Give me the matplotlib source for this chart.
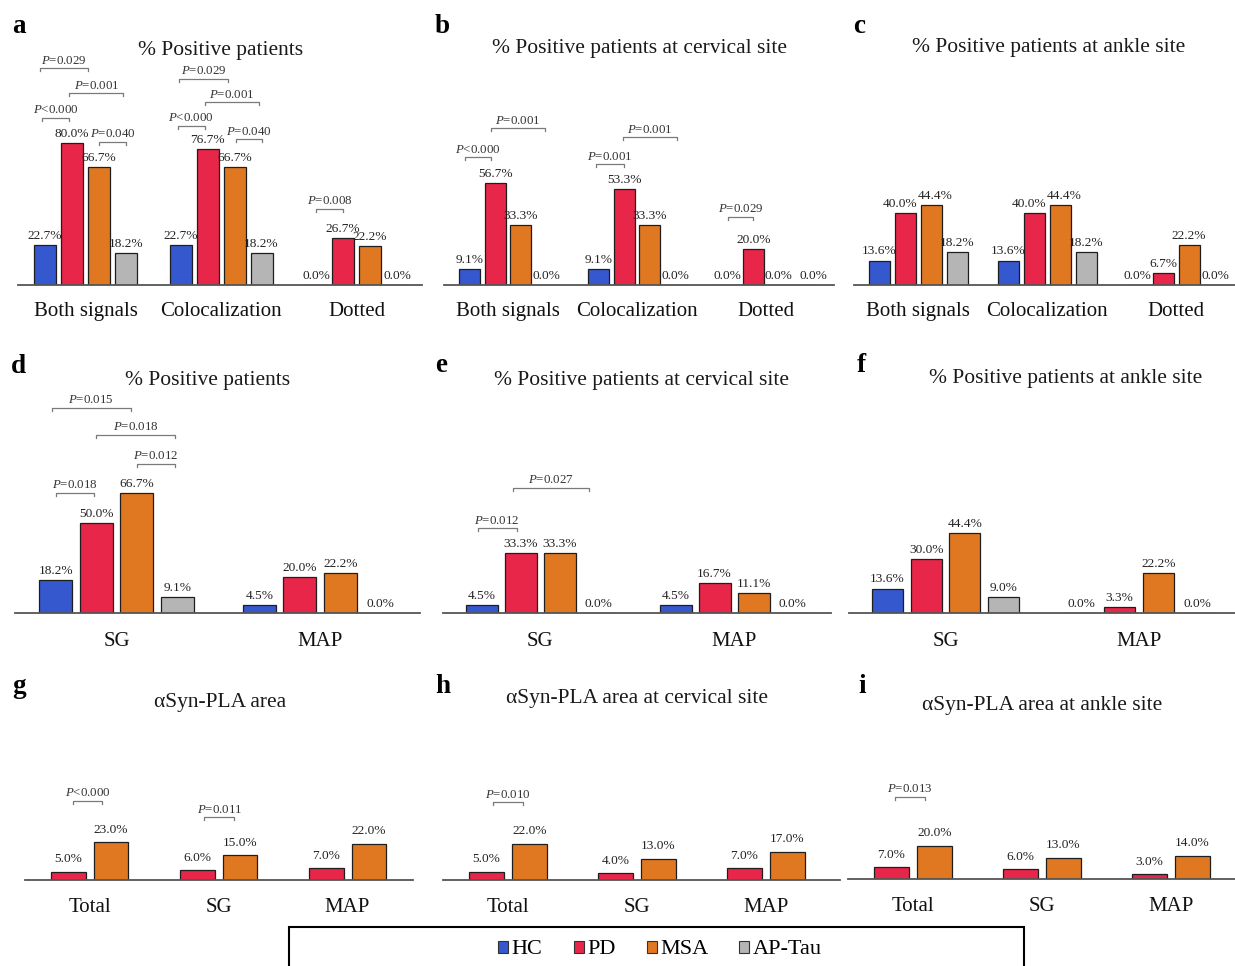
import matplotlib
matplotlib.use('Agg')
import matplotlib.pyplot as plt
from matplotlib.patches import Patch, Rectangle
import numpy as np

plt.rcParams['font.family'] = ['Liberation Serif', 'DejaVu Serif']
plt.rcParams['mathtext.fontset'] = 'custom'
plt.rcParams['mathtext.rm'] = 'Liberation Serif'
plt.rcParams['mathtext.it'] = 'Liberation Serif:italic'

W, H, DPI = 1235, 966, 100

SERIES = ['HC', 'PD', 'MSA', 'AP-Tau']
COLORS = {'HC': '#3558CF', 'PD': '#E8264A', 'MSA': '#E07822', 'AP-Tau': '#B5B5B5'}

# ---------------- data ----------------
signal_groups = ['Both signals', 'Colocalization', 'Dotted']
region_groups = ['SG', 'MAP']
area_groups = ['Total', 'SG', 'MAP']

a_hc = [22.7, 22.7, 0.0]
a_pd = [80.0, 76.7, 26.7]
a_msa = [66.7, 66.7, 22.2]
a_tau = [18.2, 18.2, 0.0]

b_hc = [9.1, 9.1, 0.0]
b_pd = [56.7, 53.3, 20.0]
b_msa = [33.3, 33.3, 0.0]
b_tau = [0.0, 0.0, 0.0]

c_hc = [13.6, 13.6, 0.0]
c_pd = [40.0, 40.0, 6.7]
c_msa = [44.4, 44.4, 22.2]
c_tau = [18.2, 18.2, 0.0]

d_hc = [18.2, 4.5]
d_pd = [50.0, 20.0]
d_msa = [66.7, 22.2]
d_tau = [9.1, 0.0]

e_hc = [4.5, 4.5]
e_pd = [33.3, 16.7]
e_msa = [33.3, 11.1]
e_tau = [0.0, 0.0]

f_hc = [13.6, 0.0]
f_pd = [30.0, 3.3]
f_msa = [44.4, 22.2]
f_tau = [9.0, 0.0]

g_pd = [5.0, 6.0, 7.0]
g_msa = [23.0, 15.0, 22.0]

h_pd = [5.0, 4.0, 7.0]
h_msa = [22.0, 13.0, 17.0]

i_pd = [7.0, 6.0, 3.0]
i_msa = [20.0, 13.0, 14.0]

# significance brackets: (group, from-bar, to-bar, level %, label)
a_sig = [(0, -0.2, 1.6, 122, 'P=0.029'), (0, 0.9, 2.9, 108, 'P=0.001'),
         (0, -0.1, 0.9, 94, 'P<0.000'), (0, 2.0, 3.0, 80.5, 'P=0.040'),
         (1, -0.05, 1.75, 116, 'P=0.029'), (1, 0.9, 2.9, 103, 'P=0.001'),
         (1, -0.1, 0.9, 89.5, 'P<0.000'), (1, 2.05, 3.0, 82, 'P=0.040'),
         (2, 0.0, 1.0, 43, 'P=0.008')]
b_sig = [(0, 0.85, 2.95, 87, 'P=0.001'), (0, -0.2, 0.85, 71, 'P<0.000'),
         (1, 0.95, 3.05, 82, 'P=0.001'), (1, -0.1, 1.0, 67, 'P=0.001'),
         (2, 0.0, 1.0, 38, 'P=0.029')]
d_sig = [(0, -0.1, 1.85, 114, 'P=0.015'), (0, 1.0, 2.95, 99, 'P=0.018'),
         (0, 2.0, 2.95, 83, 'P=0.012'), (0, 0.0, 0.95, 66.7, 'P=0.018')]
e_sig = [(0, 0.8, 2.75, 69.5, 'P=0.027'), (0, -0.1, 0.9, 47, 'P=0.012')]
g_sig = [(0, 0.12, 0.8, 48, 'P<0.000'), (1, 0.17, 0.87, 38, 'P=0.011')]
h_sig = [(0, 0.15, 0.85, 47, 'P=0.010')]
i_sig = [(0, 0.08, 0.78, 49.7, 'P=0.013')]

panels = [
    dict(letter='a', title='% Positive patients', groups=signal_groups,
         series={'HC': a_hc, 'PD': a_pd, 'MSA': a_msa, 'AP-Tau': a_tau}, sig=a_sig,
         x0=18, x1=422, base=285, top=40, c0=85.5, S=135.5, bw=22, step=27, scale=1.775,
         tx=220.5, ty=55, lx=12, ly=33, pad=12, off=2.2, ldx={}),
    dict(letter='b', title='% Positive patients at cervical site', groups=signal_groups,
         series={'HC': b_hc, 'PD': b_pd, 'MSA': b_msa, 'AP-Tau': b_tau}, sig=b_sig,
         x0=444, x1=834, base=285, top=40, c0=508, S=129, bw=21, step=25.5, scale=1.8,
         tx=639, ty=53, lx=435, ly=33, pad=12, off=2.2, ldx={('AP-Tau', 2): 9}),
    dict(letter='c', title='% Positive patients at ankle site', groups=signal_groups,
         series={'HC': c_hc, 'PD': c_pd, 'MSA': c_msa, 'AP-Tau': c_tau}, sig=[],
         x0=854, x1=1235, base=285, top=40, c0=918, S=129, bw=21, step=26, scale=1.8,
         tx=1049, ty=52, lx=853, ly=33, pad=12, off=2.2,
         ldx={('PD', 0): -5, ('MSA', 0): 4, ('PD', 1): -5, ('MSA', 1): 4}),
    dict(letter='d', title='% Positive patients', groups=region_groups,
         series={'HC': d_hc, 'PD': d_pd, 'MSA': d_msa, 'AP-Tau': d_tau}, sig=d_sig,
         x0=15, x1=420, base=613, top=370, c0=116.5, S=203.5, bw=33, step=40.5, scale=1.8,
         tx=208, ty=385, lx=11, ly=373, pad=13.5, off=2.2, ldx={}),
    dict(letter='e', title='% Positive patients at cervical site', groups=region_groups,
         series={'HC': e_hc, 'PD': e_pd, 'MSA': e_msa, 'AP-Tau': e_tau}, sig=e_sig,
         x0=443, x1=831, base=613, top=370, c0=540, S=194, bw=32, step=39, scale=1.8,
         tx=642, ty=385, lx=435, ly=372, pad=13.5, off=2.2, ldx={}),
    dict(letter='f', title='% Positive patients at ankle site', groups=region_groups,
         series={'HC': f_hc, 'PD': f_pd, 'MSA': f_msa, 'AP-Tau': f_tau}, sig=[],
         x0=849, x1=1235, base=613, top=370, c0=945.5, S=193.5, bw=31, step=38.7, scale=1.8,
         tx=1066, ty=383, lx=857, ly=372, pad=13.5, off=2.2, ldx={}),
    dict(letter='g', title='\u03b1Syn-PLA area', groups=area_groups,
         series={'PD': g_pd, 'MSA': g_msa}, sig=g_sig,
         x0=25, x1=413, base=880, top=720, c0=89.5, S=129, bw=34.5, step=42.5, scale=1.65,
         tx=220, ty=707, lx=12, ly=693, pad=13, off=4.7, ldx={}),
    dict(letter='h', title='\u03b1Syn-PLA area at cervical site', groups=area_groups,
         series={'PD': h_pd, 'MSA': h_msa}, sig=h_sig,
         x0=443, x1=840, base=880, top=720, c0=508, S=129, bw=35, step=43, scale=1.65,
         tx=637, ty=703, lx=435, ly=693, pad=13, off=4.7, ldx={}),
    dict(letter='i', title='\u03b1Syn-PLA area at ankle site', groups=area_groups,
         series={'PD': i_pd, 'MSA': i_msa}, sig=i_sig,
         x0=848, x1=1235, base=879, top=720, c0=913, S=129, bw=35, step=43, scale=1.65,
         tx=1042, ty=710, lx=858, ly=693, pad=13, off=4.7, ldx={}),
]

fig = plt.figure(figsize=(W / DPI, H / DPI), dpi=DPI)
fig.patch.set_facecolor('white')
PT = 72.0 / DPI  # points per pixel


def fmt_p(s):
    return '$P$' + s[1:]


for p in panels:
    x0, x1, base, top = p['x0'], p['x1'], p['base'], p['top']
    ax = fig.add_axes([x0 / W, 1 - base / H, (x1 - x0) / W, (base - top) / H])
    ax.patch.set_visible(False)
    S, c0 = p['S'], p['c0']
    ax.set_xlim((x0 - c0) / S, (x1 - c0) / S)
    ax.set_ylim(0, (base - top) / p['scale'])
    names = list(p['series'].keys())
    n = len(names)
    bw = p['bw'] / S
    st = p['step'] / S
    xg = np.arange(len(p['groups']))
    for k, name in enumerate(names):
        vals = p['series'][name]
        xs = xg + (k - (n - 1) / 2) * st
        ax.bar(xs, vals, width=bw, color=COLORS[name], edgecolor='#1e1e1e',
               linewidth=0.9, zorder=2)
        for gi, (x, v) in enumerate(zip(xs, vals)):
            dx = p['ldx'].get((name, gi), 0) * PT
            ax.annotate(f'{v:.1f}%', (x, v), xytext=(dx, p['off']), textcoords='offset points',
                        ha='center', va='bottom', fontsize=9.6, color='#222222',
                        annotation_clip=False)
    tick = 3 / p['scale']
    for g, ka, kb, lev, txt in p['sig']:
        xa = g + (ka - (n - 1) / 2) * st
        xb = g + (kb - (n - 1) / 2) * st
        ax.plot([xa, xa, xb, xb], [lev - tick, lev, lev, lev - tick], color='#7a7a7a',
                lw=0.9, clip_on=False, zorder=3)
        ax.annotate(fmt_p(txt), ((xa + xb) / 2, lev), xytext=(0, 1.2),
                    textcoords='offset points', ha='center', va='bottom', fontsize=9.3,
                    color='#333333', annotation_clip=False)
    for s in ['top', 'right', 'left']:
        ax.spines[s].set_visible(False)
    ax.spines['bottom'].set_color('#555555')
    ax.spines['bottom'].set_linewidth(1.3)
    ax.spines['bottom'].set_zorder(4)
    ax.set_yticks([])
    ax.set_xticks(xg)
    ax.set_xticklabels(p['groups'], fontsize=15, color='#111111')
    ax.tick_params(axis='x', length=0, pad=p['pad'])

    fig.text(p['tx'] / W, 1 - p['ty'] / H, p['title'], ha='center', va='baseline',
             fontsize=15.5, color='#1a1a1a')
    fig.text(p['lx'] / W, 1 - p['ly'] / H, p['letter'], ha='left', va='baseline',
             fontsize=19.5, fontweight='bold', color='black')

# legend
handles = [Patch(facecolor=COLORS[s], edgecolor='#333333', linewidth=0.8, label=s)
           for s in SERIES]
fig.legend(handles=handles, loc='center', bbox_to_anchor=(660 / W, 1 - 950 / H), ncol=4,
           frameon=False, fontsize=16, handlelength=0.45, handleheight=0.45,
           handletextpad=0.15, columnspacing=1.4, borderaxespad=0, borderpad=0)
fig.add_artist(Rectangle((289 / W, -0.02), (1024 - 289) / W, 0.02 + (1 - 927 / H),
                         transform=fig.transFigure, fill=False, edgecolor='black',
                         linewidth=1.5, clip_on=False))

fig.savefig('out.png', dpi=DPI)
